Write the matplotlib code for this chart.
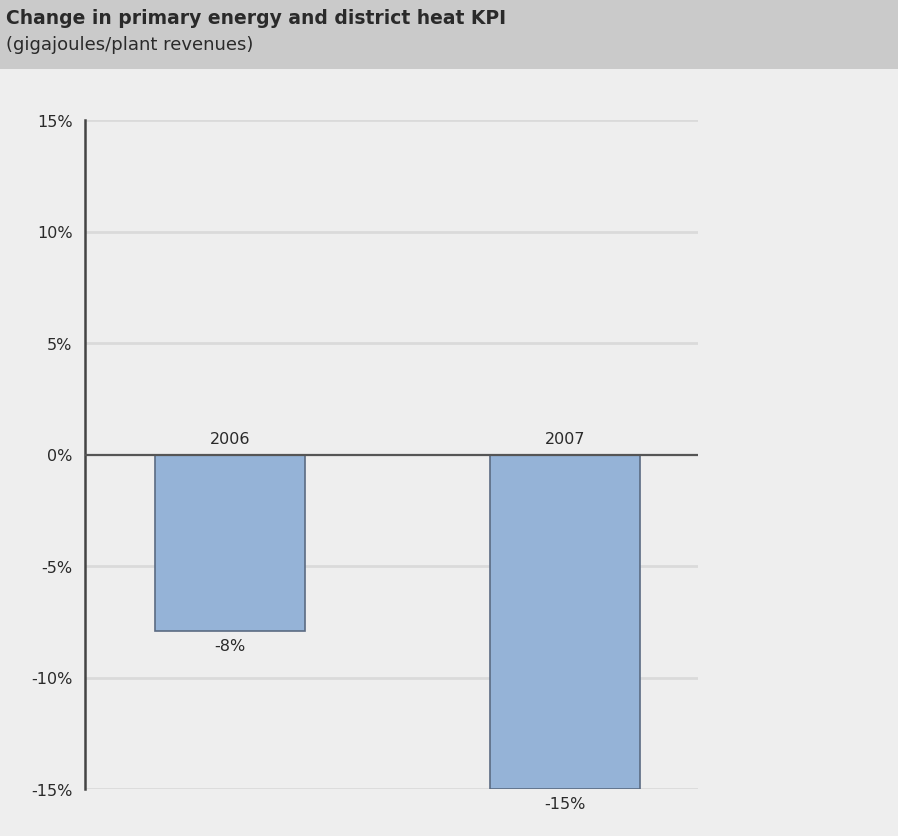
import matplotlib.pyplot as plt
from matplotlib.patches import Rectangle

years = ["2006", "2007"]
changes = [-7.9, -15.0]
ticks = [15, 10, 5, 0, -5, -10, -15]
tick_labels = ["15%", "10%", "5%", "0%", "-5%", "-10%", "-15%"]
value_labels = ["-8%", "-15%"]

W, H = 898, 837
fig = plt.figure(figsize=(W / 100, H / 100), dpi=100)
fig.patch.set_facecolor("#eeeeee")
font = "DejaVu Sans"

# header band
fig.patches.append(Rectangle((0, 1 - 70 / H), 1, 70 / H, transform=fig.transFigure,
                             facecolor="#cacaca", edgecolor="none", zorder=0))
fig.text(6 / W, 1 - 19 / H, "Change in primary energy and district heat KPI",
         fontsize=13.5, fontweight="bold", color="#2a2a2a", va="center", ha="left",
         family=font)
fig.text(6 / W, 1 - 45 / H, "(gigajoules/plant revenues)",
         fontsize=13, color="#2a2a2a", va="center", ha="left", family=font)

ax = fig.add_axes([85 / W, (H - 790) / H, (698 - 85) / W, (790 - 121) / H])
ax.set_facecolor("#eeeeee")
x = [0, 1]
ax.bar(x, changes, width=0.448, color="#95b3d7", edgecolor="#5b6b82", linewidth=1.2, zorder=3)

ax.set_xlim(-0.433, 1.397)
ax.set_ylim(-15, 15)
ax.set_yticks(ticks)
ax.set_yticklabels(tick_labels, family=font, fontsize=11.5, color="#2a2a2a")
ax.tick_params(axis="y", length=0, pad=9)
ax.set_xticks([])
for t in ticks:
    if t != 0:
        ax.axhline(t, color="#dadada", linewidth=2, zorder=1)
ax.axhline(0, color="#555555", linewidth=1.6, zorder=4)

for s in ["top", "right", "bottom"]:
    ax.spines[s].set_visible(False)
ax.spines["left"].set_color("#444444")
ax.spines["left"].set_linewidth(1.8)

for xi, v, yl, vl in zip(x, changes, years, value_labels):
    ax.annotate(yl, (xi, 0), xytext=(0, 6), textcoords="offset points", ha="center",
                va="bottom", fontsize=11.5, color="#2a2a2a", family=font)
    ax.annotate(vl, (xi, v), xytext=(0, -5), textcoords="offset points", ha="center",
                va="top", fontsize=11.5, color="#2a2a2a", family=font)

fig.savefig("out.png", dpi=100, facecolor=fig.get_facecolor())
